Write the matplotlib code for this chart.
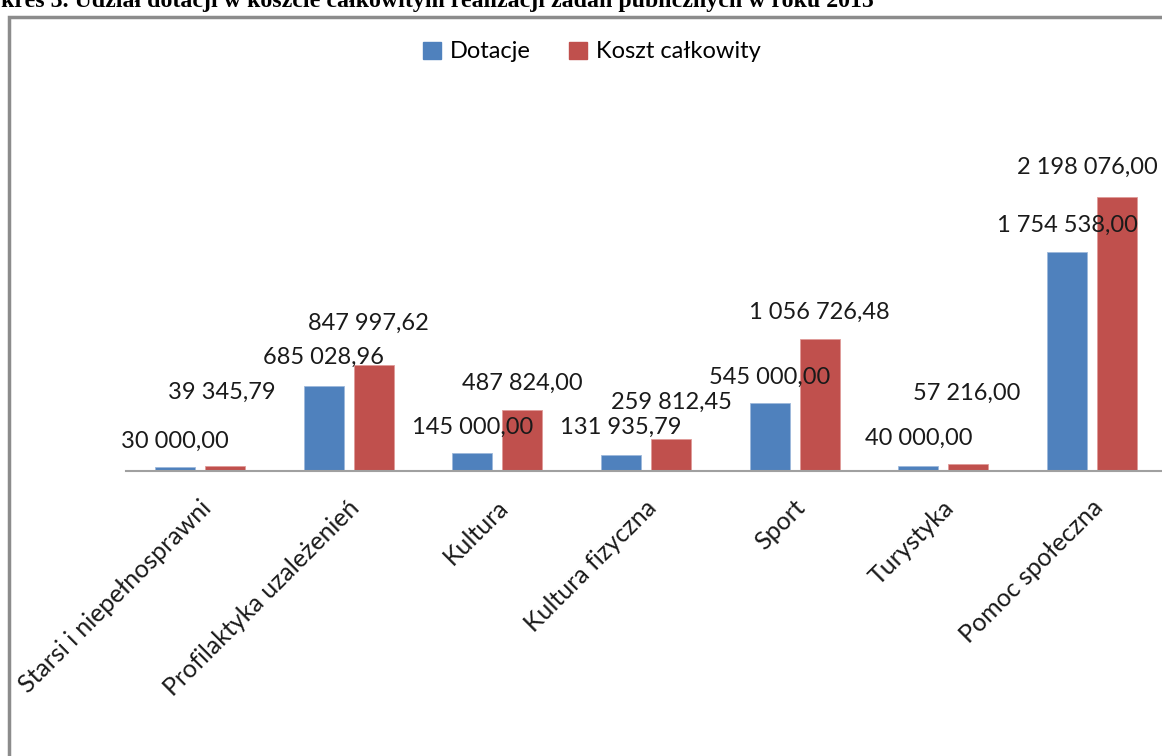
import matplotlib
matplotlib.use("Agg")
import matplotlib.pyplot as plt
from matplotlib.patches import Patch, Rectangle
import numpy as np

# Data
categories = ["Starsi i niepełnosprawni", "Profilaktyka uzależenień", "Kultura",
              "Kultura fizyczna", "Sport", "Turystyka", "Pomoc społeczna"]
dotacje = [30000.00, 685028.96, 145000.00, 131935.79, 545000.00, 40000.00, 1754538.00]
koszt = [39345.79, 847997.62, 487824.00, 259812.45, 1056726.48, 57216.00, 2198076.00]

# label placement tweaks (pixels) copied from the original layout
blue_dy = [26, 28, 26, 27, 26, 28, 27]
red_dy = [74, 42, 27, 36, 27, 71, 29]
red_dx = [-3, -5, 0, 0, 0, -2, -30]

BLUE = "#4F81BD"
RED = "#C0504D"
FONT = "Lato"

def fmt(v):
    # Polish number format: space thousands separator, comma decimals
    s = "{:,.2f}".format(v)
    return s.replace(",", " ").replace(".", ",")

W, H = 1162, 756
fig = plt.figure(figsize=(W / 100, H / 100), dpi=100)

# outer chart frame (runs off the right and bottom edge)
fig.patches.append(Rectangle((8.5 / W, -0.1), 1.2, 1 - 17 / H + 0.1, transform=fig.transFigure,
                             fill=False, edgecolor="#8C8C8C", linewidth=2.5))

# cropped caption above the frame
fig.text(1 / W, 1 - 7 / H, "kres 3. Udział dotacji w koszcie całkowitym realizacji zadań publicznych w roku 2015",
         fontsize=17.2, fontweight="bold", family="Liberation Serif", va="baseline", ha="left")

left = 125.7 / W
width = 1040.7 / W
bottom = (H - 471) / H
top_px = 100
height = (471 - top_px) / H
ax = fig.add_axes([left, bottom, width, height])

px_per_unit = 124.8 / 1e6
ax.set_ylim(0, (471 - top_px) / px_per_unit)
ax.set_xlim(-0.5, len(categories) - 0.5)

x = np.arange(len(categories))
bw = 0.269
off = 0.168
ax.bar(x - off, dotacje, bw, color=BLUE, edgecolor="#9DB9DB", linewidth=0.6)
ax.bar(x + off, koszt, bw, color=RED, edgecolor="#E09A98", linewidth=0.6)

for i in range(len(categories)):
    ax.annotate(fmt(dotacje[i]), (x[i] - off, dotacje[i]), xytext=(0, blue_dy[i]),
                textcoords="offset pixels", ha="center", va="center",
                fontsize=17, family=FONT, color="#1a1a1a")
    ax.annotate(fmt(koszt[i]), (x[i] + off, koszt[i]), xytext=(red_dx[i], red_dy[i]),
                textcoords="offset pixels", ha="center", va="center",
                fontsize=17, family=FONT, color="#1a1a1a")

for s in ["top", "right", "left"]:
    ax.spines[s].set_visible(False)
ax.spines["bottom"].set_color("#A0A0A0")
ax.spines["bottom"].set_linewidth(1.5)
ax.set_yticks([])
ax.set_xticks(x)
ax.set_xticklabels([])
ax.tick_params(axis="x", length=0)

# rotated category labels, right end anchored under each group
for i, name in enumerate(categories):
    ax.annotate(name, (x[i], 0), xytext=(7, -33), textcoords="offset pixels",
                ha="right", va="center", rotation=45, rotation_mode="anchor",
                fontsize=18, family=FONT, color="#1a1a1a", annotation_clip=False)

handles = [Patch(facecolor=BLUE, edgecolor=BLUE), Patch(facecolor=RED, edgecolor=RED)]
leg = fig.legend(handles, ["Dotacje", "Koszt całkowity"], loc="center",
                 bbox_to_anchor=(592 / W, 1 - 52 / H), ncol=2, frameon=False,
                 handlelength=0.75, handleheight=0.75, handletextpad=0.4,
                 columnspacing=1.6, prop={"family": FONT, "size": 17})

fig.savefig("out.png", dpi=100)
